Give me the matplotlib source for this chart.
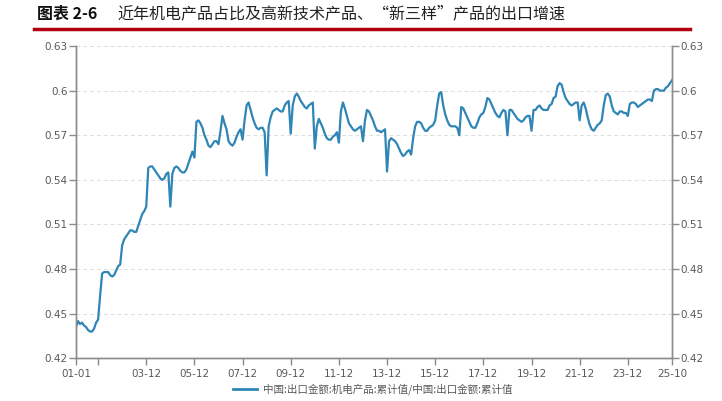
import matplotlib
matplotlib.use('Agg')
import matplotlib.pyplot as plt
from matplotlib.lines import Line2D

plt.rcParams['font.family'] = ['Noto Sans CJK SC', 'DejaVu Sans']

# monthly share, 2001-01 .. 2025-10
y2001 = [0.441, 0.445, 0.443, 0.444, 0.442, 0.441, 0.439, 0.438, 0.438, 0.440, 0.444, 0.446]
y2002 = [0.462, 0.477, 0.478, 0.478, 0.478, 0.476, 0.475, 0.476, 0.479, 0.482, 0.483, 0.496]
y2003 = [0.500, 0.502, 0.504, 0.506, 0.506, 0.505, 0.505, 0.509, 0.513, 0.517, 0.519, 0.522]
y2004 = [0.548, 0.549, 0.549, 0.547, 0.545, 0.543, 0.541, 0.540, 0.541, 0.544, 0.545, 0.522]
y2005 = [0.544, 0.548, 0.549, 0.548, 0.546, 0.545, 0.545, 0.547, 0.551, 0.555, 0.559, 0.555]
y2006 = [0.579, 0.580, 0.578, 0.575, 0.570, 0.567, 0.563, 0.562, 0.564, 0.566, 0.566, 0.564]
y2007 = [0.573, 0.583, 0.578, 0.574, 0.566, 0.564, 0.563, 0.565, 0.569, 0.572, 0.574, 0.567]
y2008 = [0.580, 0.590, 0.592, 0.587, 0.582, 0.578, 0.575, 0.574, 0.575, 0.575, 0.572, 0.543]
y2009 = [0.576, 0.582, 0.586, 0.587, 0.588, 0.587, 0.586, 0.586, 0.590, 0.592, 0.593, 0.571]
y2010 = [0.590, 0.596, 0.598, 0.596, 0.593, 0.591, 0.589, 0.588, 0.590, 0.591, 0.592, 0.561]
y2011 = [0.576, 0.581, 0.578, 0.575, 0.571, 0.568, 0.567, 0.567, 0.569, 0.570, 0.572, 0.565]
y2012 = [0.586, 0.592, 0.588, 0.583, 0.578, 0.576, 0.574, 0.573, 0.574, 0.575, 0.576, 0.566]
y2013 = [0.580, 0.587, 0.586, 0.583, 0.580, 0.576, 0.573, 0.573, 0.572, 0.573, 0.574, 0.5456]
y2014 = [0.566, 0.568, 0.567, 0.566, 0.564, 0.561, 0.558, 0.556, 0.557, 0.559, 0.560, 0.557]
y2015 = [0.568, 0.576, 0.579, 0.579, 0.578, 0.575, 0.573, 0.573, 0.575, 0.576, 0.577, 0.580]
y2016 = [0.590, 0.598, 0.599, 0.590, 0.584, 0.580, 0.577, 0.576, 0.576, 0.576, 0.575, 0.570]
y2017 = [0.589, 0.588, 0.585, 0.582, 0.579, 0.576, 0.575, 0.575, 0.578, 0.582, 0.584, 0.585]
y2018 = [0.589, 0.595, 0.594, 0.591, 0.588, 0.585, 0.583, 0.582, 0.585, 0.587, 0.586, 0.570]
y2019 = [0.587, 0.587, 0.585, 0.583, 0.581, 0.580, 0.579, 0.580, 0.582, 0.583, 0.583, 0.573]
y2020 = [0.587, 0.587, 0.589, 0.590, 0.588, 0.587, 0.587, 0.587, 0.590, 0.591, 0.595, 0.596]
y2021 = [0.603, 0.605, 0.604, 0.599, 0.595, 0.593, 0.591, 0.590, 0.591, 0.592, 0.592, 0.580]
y2022 = [0.590, 0.592, 0.588, 0.582, 0.577, 0.574, 0.573, 0.575, 0.577, 0.578, 0.580, 0.590]
y2023 = [0.597, 0.598, 0.596, 0.590, 0.586, 0.585, 0.584, 0.586, 0.586, 0.585, 0.585, 0.583]
y2024 = [0.591, 0.592, 0.592, 0.591, 0.589, 0.590, 0.591, 0.592, 0.593, 0.594, 0.594, 0.593]
y2025 = [0.600, 0.601, 0.601, 0.600, 0.600, 0.600, 0.602, 0.603, 0.605, 0.607]

share = (y2001 + y2002 + y2003 + y2004 + y2005 + y2006 + y2007 + y2008 + y2009
         + y2010 + y2011 + y2012 + y2013 + y2014 + y2015 + y2016 + y2017 + y2018
         + y2019 + y2020 + y2021 + y2022 + y2023 + y2024 + y2025)
months = list(range(len(share)))

tick_pos = [0, 11, 35, 59, 83, 107, 131, 155, 179, 203, 227, 251, 275, 297]
tick_lab = ['01-01', '', '03-12', '05-12', '07-12', '09-12', '11-12', '13-12',
            '15-12', '17-12', '19-12', '21-12', '23-12', '25-10']
y_ticks = [0.42, 0.45, 0.48, 0.51, 0.54, 0.57, 0.6, 0.63]
y_labels = ['0.42', '0.45', '0.48', '0.51', '0.54', '0.57', '0.6', '0.63']

title_no = '图表 2-6'
title = '近年机电产品占比及高新技术产品、“新三样”产品的出口增速'
legend_label = '中国:出口金额:机电产品:累计值/中国:出口金额:累计值'

line_c = '#2f85b6'
axis_c = '#8c8c8c'
text_c = '#595959'

fig = plt.figure(figsize=(7.22, 4.01), dpi=100)
ax = fig.add_axes((0.1053, 0.1065, 0.8254, 0.7788))
ax.plot(months, share, color=line_c, lw=1.6, solid_joinstyle='round')

ax.set_xlim(0, 297)
ax.set_ylim(0.42, 0.63)
ax.set_xticks(tick_pos)
ax.set_xticklabels(tick_lab)
ax.set_yticks(y_ticks)
ax.set_yticklabels(y_labels)
ax.grid(axis='y', color='#dddddd', ls=(0, (4, 3)), lw=0.7)
ax.set_axisbelow(True)

ax2 = ax.twinx()
ax2.set_ylim(0.42, 0.63)
ax2.set_yticks(y_ticks)
ax2.set_yticklabels(y_labels)

for a in (ax, ax2):
    a.spines['top'].set_visible(False)
    for s in ('left', 'right', 'bottom'):
        a.spines[s].set_color(axis_c)
        a.spines[s].set_linewidth(1.0)
    a.tick_params(colors=axis_c, labelcolor=text_c, labelsize=7.5, length=5, width=1.0, pad=1)
    for lab in a.get_xticklabels() + a.get_yticklabels():
        lab.set_family('DejaVu Sans')
ax.tick_params(axis='x', pad=3)

fig.text(0.051, 0.966, title_no, fontsize=11.5, color='#111111', va='center', ha='left',
         fontweight='bold')
fig.text(0.162, 0.966, title, fontsize=11.5, color='#222222', va='center', ha='left')
fig.add_artist(Line2D([0.047, 0.955], [0.927, 0.927], color='#b3000f', lw=2.5))

handle = Line2D([], [], color=line_c, lw=2)
fig.legend([handle], [legend_label], loc='lower center', bbox_to_anchor=(0.516, -0.008),
           frameon=False, fontsize=7.6, handlelength=2.3, handletextpad=0.5,
           labelcolor=text_c)

fig.savefig('out.png', dpi=100)
